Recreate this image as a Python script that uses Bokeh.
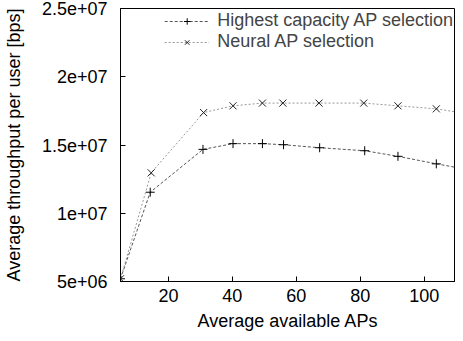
from bokeh.plotting import figure
from bokeh.models import FixedTicker, Legend, LegendItem, Range1d
from bokeh.embed import file_html
from bokeh.resources import INLINE

# ---- data ----
aps = [5.0, 14.3, 30.8, 40.2, 49.4, 56.0, 67.3, 81.4, 91.8, 103.8, 116.0]
highest = [5.2e6, 1.154e7, 1.468e7, 1.51e7, 1.51e7, 1.502e7, 1.48e7, 1.458e7, 1.417e7, 1.362e7, 1.31e7]

aps_n = [5.0, 14.6, 31.0, 40.2, 49.4, 55.8, 67.1, 81.1, 91.8, 103.8, 116.0]
neural = [5.2e6, 1.296e7, 1.7375e7, 1.787e7, 1.807e7, 1.807e7, 1.807e7, 1.807e7, 1.787e7, 1.765e7, 1.72e7]

x_ticks = [20, 40, 60, 80, 100]
y_ticks = [5e6, 1e7, 1.5e7, 2e7, 2.5e7]
y_tick_labels = ["5e+06", "1e+07", "1.5e+07", "2e+07", "2.5e+07"]

series_names = ["Highest capacity AP selection", "Neural AP selection"]

FONT = "Liberation Sans"
FS = "18px"

p = figure(width=455, height=333, output_backend="svg", toolbar_location=None,
           x_range=Range1d(5, 109.8), y_range=Range1d(5e6, 2.5e7),
           min_border_left=6, min_border_right=0, min_border_top=8, min_border_bottom=2)

p.xgrid.visible = False
p.ygrid.visible = False
p.outline_line_color = "black"
p.outline_line_width = 1
p.background_fill_color = "white"
p.border_fill_color = "white"

for ax in (p.xaxis[0], p.yaxis[0]):
    ax.major_tick_in = 5
    ax.major_tick_out = 0
    ax.minor_tick_line_color = None
    ax.axis_line_color = "black"
    ax.major_label_text_font = FONT
    ax.major_label_text_font_size = FS
    ax.major_label_text_color = "black"
    ax.axis_label_text_font = FONT
    ax.axis_label_text_font_size = FS
    ax.axis_label_text_font_style = "normal"
    ax.axis_label_text_color = "black"

p.xaxis.ticker = FixedTicker(ticks=x_ticks)
p.yaxis.ticker = FixedTicker(ticks=y_ticks)
p.yaxis.major_label_overrides = {t: l for t, l in zip(y_ticks, y_tick_labels)}
p.xaxis.axis_label = "Average available APs"
p.yaxis.axis_label = "Average throughput per user [bps]"
p.xaxis.major_label_standoff = 7
p.yaxis.major_label_standoff = 13
p.xaxis.axis_label_standoff = 6
p.yaxis.axis_label_standoff = 15

l1 = p.line(aps, highest, line_color="#555555", line_width=1, line_dash="3 2")
m1 = p.scatter(aps, highest, marker="cross", size=9, line_color="black", line_width=1)
l2 = p.line(aps_n, neural, line_color="#999999", line_width=1, line_dash="2 2")
m2 = p.scatter(aps_n, neural, marker="x", size=10, line_color="#222222", line_width=1)

legend = Legend(items=[LegendItem(label=series_names[0], renderers=[l1, m1]),
                       LegendItem(label=series_names[1], renderers=[l2, m2])],
                location="top_right", border_line_color=None, background_fill_alpha=0,
                label_text_font=FONT, label_text_font_size=FS,
                glyph_width=45, glyph_height=16, spacing=0, padding=2, margin=2,
                label_standoff=8, label_height=18)
p.add_layout(legend)

open("out.html", "w").write(file_html(p, INLINE))
